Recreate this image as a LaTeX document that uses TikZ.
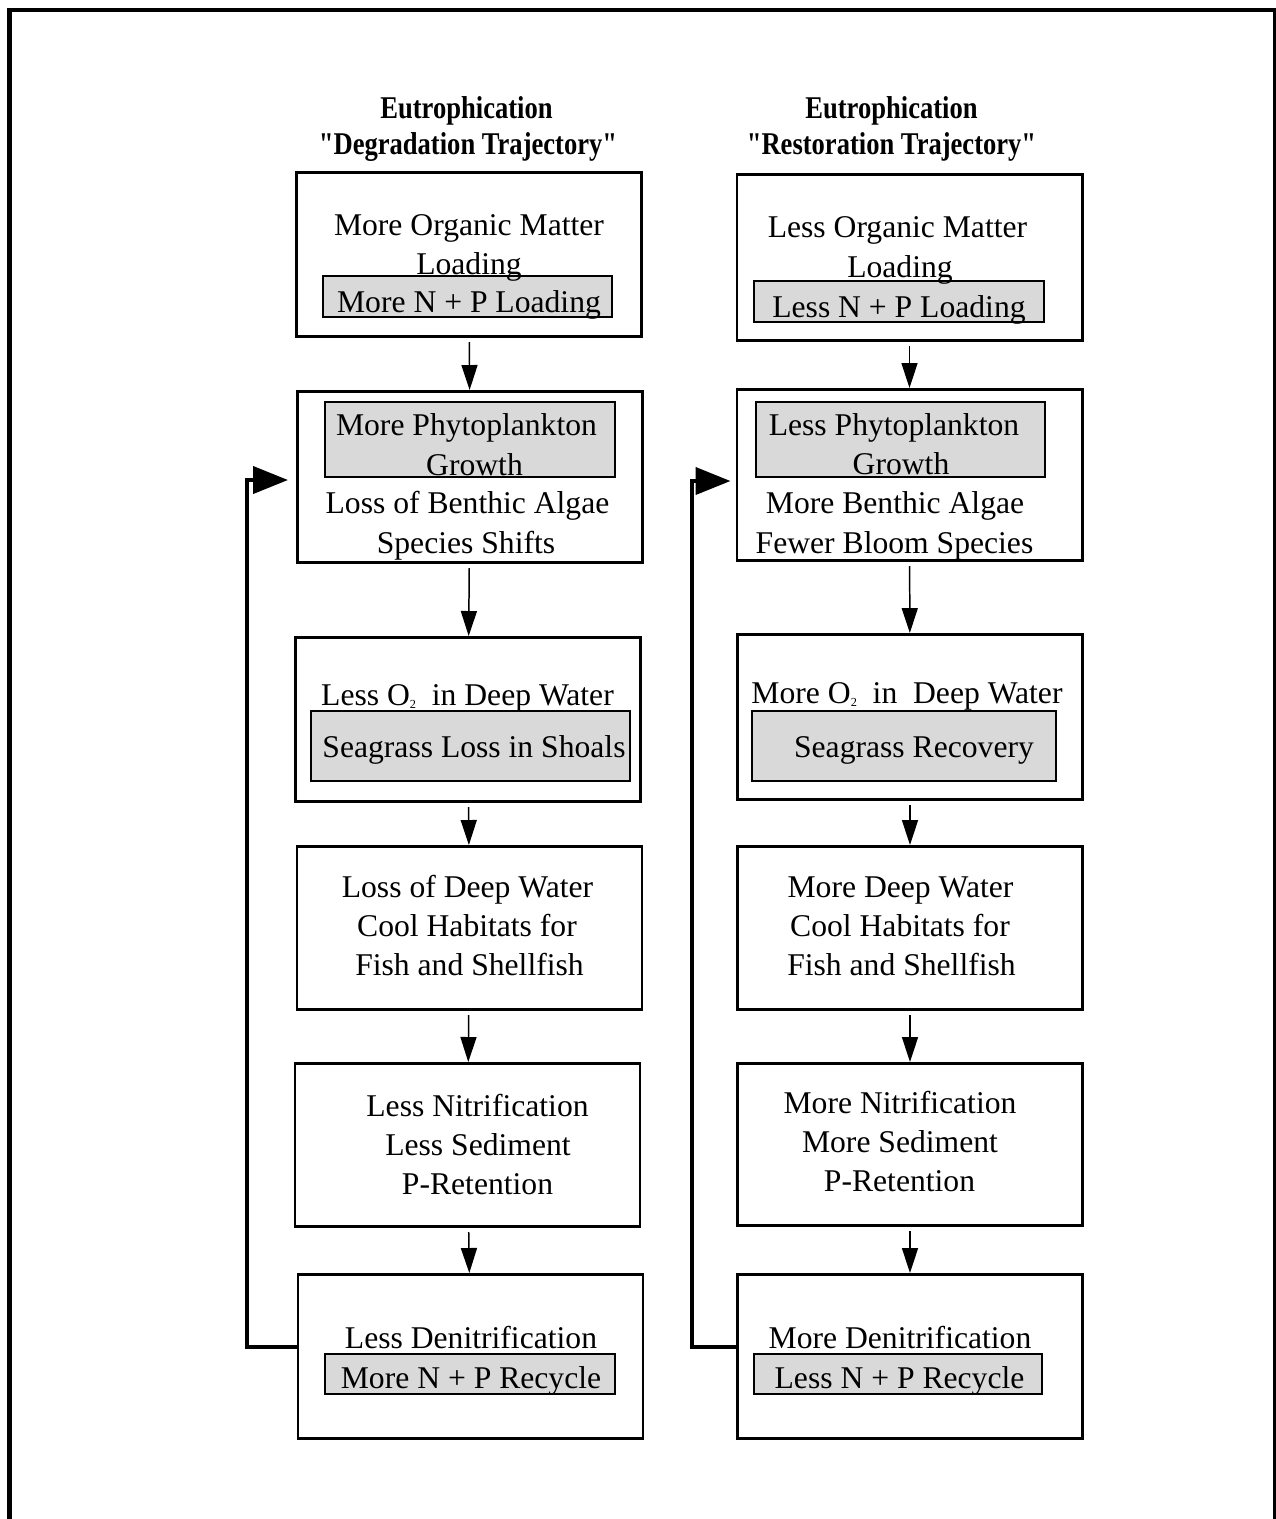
\documentclass[tikz,border=0pt]{standalone}
\usepackage{fontspec}
\setmainfont{Liberation Serif}
\newfontfamily\headfont[FakeStretch=0.84]{Liberation Serif}
\usetikzlibrary{arrows.meta}
\pgfdeclarelayer{edgelayer}
\pgfdeclarelayer{nodelayer}
\pgfsetlayers{edgelayer,nodelayer,main}
\definecolor{shadegray}{RGB}{217,217,217}
\newcommand{\Otwo}{O\raisebox{-0.25ex}{\fontsize{7}{7}\selectfont 2}}
\tikzstyle{none}=[inner sep=0pt,anchor=base,font=\fontsize{18}{22}\selectfont]
\tikzstyle{heading}=[inner sep=0pt,anchor=base,font=\headfont\bfseries\fontsize{18}{22}\selectfont]
\tikzstyle{stage}=[rectangle,draw=black,line width=1.7pt,minimum width=6.9cm,minimum height=3.28cm,inner sep=0pt]
\tikzstyle{shaded}=[rectangle,draw=black,fill=shadegray,line width=1pt,inner sep=0pt]
\tikzstyle{flow}=[-{Triangle[length=0.5cm,width=0.32cm]},draw=black,line width=0.85pt,shorten <=0.08cm]
\tikzstyle{feedback}=[-{Triangle[length=0.7cm,width=0.54cm]},draw=black,line width=2.3pt]

\begin{document}
\begin{tikzpicture}
	\useasboundingbox (0,0) rectangle (25.52,-30.38);
	\draw [line width=2.8pt] (0.19,-30.6) -- (0.19,-0.2) -- (25.5,-0.2) -- (25.5,-30.6);
	\begin{pgfonlayer}{nodelayer}
		% degradation column
		\node [style=stage] (0) at (9.38, -5.09) {};
		\node [style=stage, minimum height=3.42cm] (1) at (9.40, -9.54) {};
		\node [style=stage] (2) at (9.36, -14.39) {};
		\node [style=stage, minimum height=3.26cm] (3) at (9.39, -18.56) {};
		\node [style=stage, minimum height=3.26cm] (4) at (9.35, -22.90) {};
		\node [style=stage] (5) at (9.41, -27.13) {};
		% restoration column
		\node [style=stage, minimum height=3.32cm] (6) at (18.19, -5.15) {};
		\node [style=stage, minimum height=3.42cm] (7) at (18.19, -9.50) {};
		\node [style=stage, minimum height=3.30cm] (8) at (18.20, -14.34) {};
		\node [style=stage, minimum height=3.26cm] (9) at (18.20, -18.56) {};
		\node [style=stage, minimum height=3.24cm] (10) at (18.20, -22.89) {};
		\node [style=stage] (11) at (18.20, -27.13) {};
		% shaded panels
		\node [style=shaded, minimum width=5.78cm, minimum height=0.82cm] (12) at (9.35, -5.93) {};
		\node [style=shaded, minimum width=5.80cm, minimum height=1.50cm] (13) at (9.40, -8.79) {};
		\node [style=shaded, minimum width=6.38cm, minimum height=1.40cm] (14) at (9.41, -14.92) {};
		\node [style=shaded, minimum width=5.80cm, minimum height=0.80cm] (15) at (9.40, -27.48) {};
		\node [style=shaded, minimum width=5.80cm, minimum height=0.82cm] (16) at (17.98, -6.03) {};
		\node [style=shaded, minimum width=5.78cm, minimum height=1.50cm] (17) at (18.01, -8.79) {};
		\node [style=shaded, minimum width=6.08cm, minimum height=1.40cm] (18) at (18.08, -14.92) {};
		\node [style=shaded, minimum width=5.76cm, minimum height=0.80cm] (19) at (17.96, -27.48) {};
		% headings
		\node [style=heading] (20) at (9.33, -2.36) {Eutrophication};
		\node [style=heading] (21) at (9.36, -3.08) {"Degradation Trajectory"};
		\node [style=heading] (22) at (17.83, -2.36) {Eutrophication};
		\node [style=heading] (23) at (17.83, -3.08) {"Restoration Trajectory"};
		% degradation texts
		\node [style=none] (24) at (9.38, -4.70) {More Organic Matter};
		\node [style=none] (25) at (9.38, -5.48) {Loading};
		\node [style=none] (26) at (9.38, -6.24) {More N + P Loading};
		\node [style=none] (27) at (9.33, -8.70) {More Phytoplankton};
		\node [style=none] (28) at (9.49, -9.50) {Growth};
		\node [style=none] (29) at (9.35, -10.26) {Loss of Benthic Algae};
		\node [style=none] (30) at (9.32, -11.06) {Species Shifts};
		\node [style=none] (31) at (9.35, -14.10) {Less \Otwo\ \ in Deep Water};
		\node [style=none] (32) at (9.48, -15.14) {Seagrass Loss in Shoals};
		\node [style=none] (33) at (9.35, -17.94) {Loss of Deep Water};
		\node [style=none] (34) at (9.34, -18.72) {Cool Habitats for};
		\node [style=none] (35) at (9.39, -19.50) {Fish and Shellfish};
		\node [style=none] (36) at (9.55, -22.32) {Less Nitrification};
		\node [style=none] (37) at (9.56, -23.10) {Less Sediment};
		\node [style=none] (38) at (9.55, -23.88) {P-Retention};
		\node [style=none] (39) at (9.42, -26.96) {Less Denitrification};
		\node [style=none] (40) at (9.42, -27.76) {More N + P Recycle};
		% restoration texts
		\node [style=none] (41) at (17.95, -4.74) {Less Organic Matter};
		\node [style=none] (42) at (18.00, -5.54) {Loading};
		\node [style=none] (43) at (17.98, -6.34) {Less N + P Loading};
		\node [style=none] (44) at (17.88, -8.70) {Less Phytoplankton};
		\node [style=none] (45) at (18.02, -9.48) {Growth};
		\node [style=none] (46) at (17.90, -10.26) {More Benthic Algae};
		\node [style=none] (47) at (17.89, -11.06) {Fewer Bloom Species};
		\node [style=none] (48) at (18.14, -14.06) {More \Otwo\ \ in\ \ Deep Water};
		\node [style=none] (49) at (18.28, -15.14) {Seagrass Recovery};
		\node [style=none] (50) at (18.01, -17.94) {More Deep Water};
		\node [style=none] (51) at (18.00, -18.72) {Cool Habitats for};
		\node [style=none] (52) at (18.03, -19.50) {Fish and Shellfish};
		\node [style=none] (53) at (18.00, -22.26) {More Nitrification};
		\node [style=none] (54) at (18.00, -23.04) {More Sediment};
		\node [style=none] (55) at (17.99, -23.82) {P-Retention};
		\node [style=none] (56) at (18.00, -26.96) {More Denitrification};
		\node [style=none] (57) at (17.99, -27.76) {Less N + P Recycle};
		% loop corners
		\coordinate (58) at (4.94, -9.60);
		\coordinate (59) at (13.84, -9.62);
	\end{pgfonlayer}
	\begin{pgfonlayer}{edgelayer}
		\draw [style=flow] (0) to (1);
		\draw [style=flow] (1) to (2);
		\draw [style=flow] (2) to (3);
		\draw [style=flow] (3) to (4);
		\draw [style=flow] (4) to (5);
		\draw [style=flow] (6) to (7);
		\draw [style=flow] (7) to (8);
		\draw [style=flow] (8) to (9);
		\draw [style=flow] (9) to (10);
		\draw [style=flow] (10) to (11);
		\draw [style=feedback, shorten >=0.16cm] ([yshift=0.19cm]5.west) -| (58) -- (58 -| 1.west);
		\draw [style=feedback, shorten >=0.1cm] ([yshift=0.19cm]11.west) -| (59) -- (59 -| 7.west);
	\end{pgfonlayer}
\end{tikzpicture}
\end{document}
